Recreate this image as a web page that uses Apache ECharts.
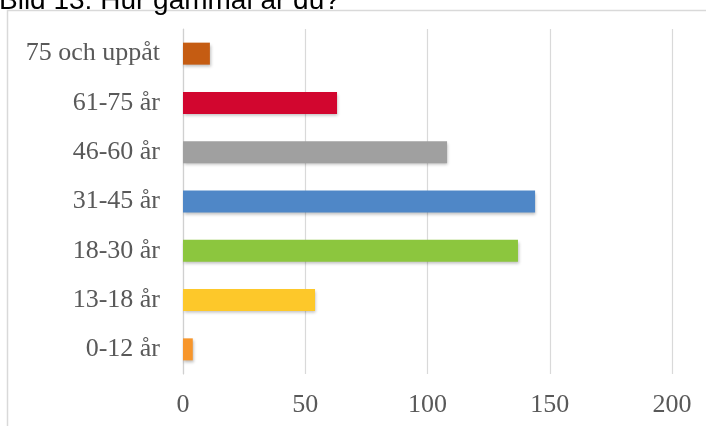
<!DOCTYPE html>
<html>
<head>
<meta charset="utf-8">
<script src="https://cdn.jsdelivr.net/npm/echarts@6/dist/echarts.min.js"></script>
<style>html,body{margin:0;padding:0;background:#fff;}#c{width:706px;height:426px;}</style>
</head>
<body>
<div id="c"></div>
<script>
const titleText = "Bild 13: Hur gammal är du?";
const categories = ["0-12 år", "13-18 år", "18-30 år", "31-45 år", "46-60 år", "61-75 år", "75 och uppåt"];
const values = [4, 54, 137, 144, 108, 63, 11];
const barColors = ["#f7962b", "#fdc82a", "#8cc63e", "#4f87c7", "#a0a0a0", "#d2062f", "#c55c12"];
const xTicks = [0, 50, 100, 150, 200];

const chart = echarts.init(document.getElementById('c'));
chart.setOption({
  animation: false,
  backgroundColor: '#fff',
  title: {
    text: titleText, left: -1, top: -13, padding: 0,
    textStyle: { fontFamily: 'Liberation Sans', fontSize: 28, fontWeight: 'normal', color: '#000' }
  },
  graphic: [{
    type: 'rect', shape: { x: 7.5, y: 10.5, width: 720, height: 440 },
    style: { fill: '#fff', stroke: '#d9d9d9', lineWidth: 1.5 }, silent: true, z: -1
  }],
  grid: { left: 183, right: 34, top: 29, bottom: 52, containLabel: false },
  xAxis: {
    type: 'value', min: 0, max: 200, interval: 50,
    axisLine: { show: false }, axisTick: { show: false },
    splitLine: { show: true, lineStyle: { color: '#d9d9d9', width: 1.2 } },
    axisLabel: {
      margin: 18, color: '#595959', fontFamily: 'Liberation Serif', fontSize: 26,
      formatter: v => xTicks.includes(v) ? String(v) : ''
    }
  },
  yAxis: {
    type: 'category', data: categories,
    axisLine: { show: true, lineStyle: { color: '#d0d0d0', width: 1.2 } },
    axisTick: { show: false },
    axisLabel: { margin: 23, color: '#595959', fontFamily: 'Liberation Serif', fontSize: 26 }
  },
  series: [{
    type: 'bar', barWidth: 22,
    data: values.map((v, i) => ({
      value: v,
      itemStyle: {
        color: barColors[i],
        shadowColor: 'rgba(0,0,0,0.25)', shadowBlur: 3, shadowOffsetX: 1, shadowOffsetY: 2
      }
    }))
  }]
});
</script>
</body>
</html>
